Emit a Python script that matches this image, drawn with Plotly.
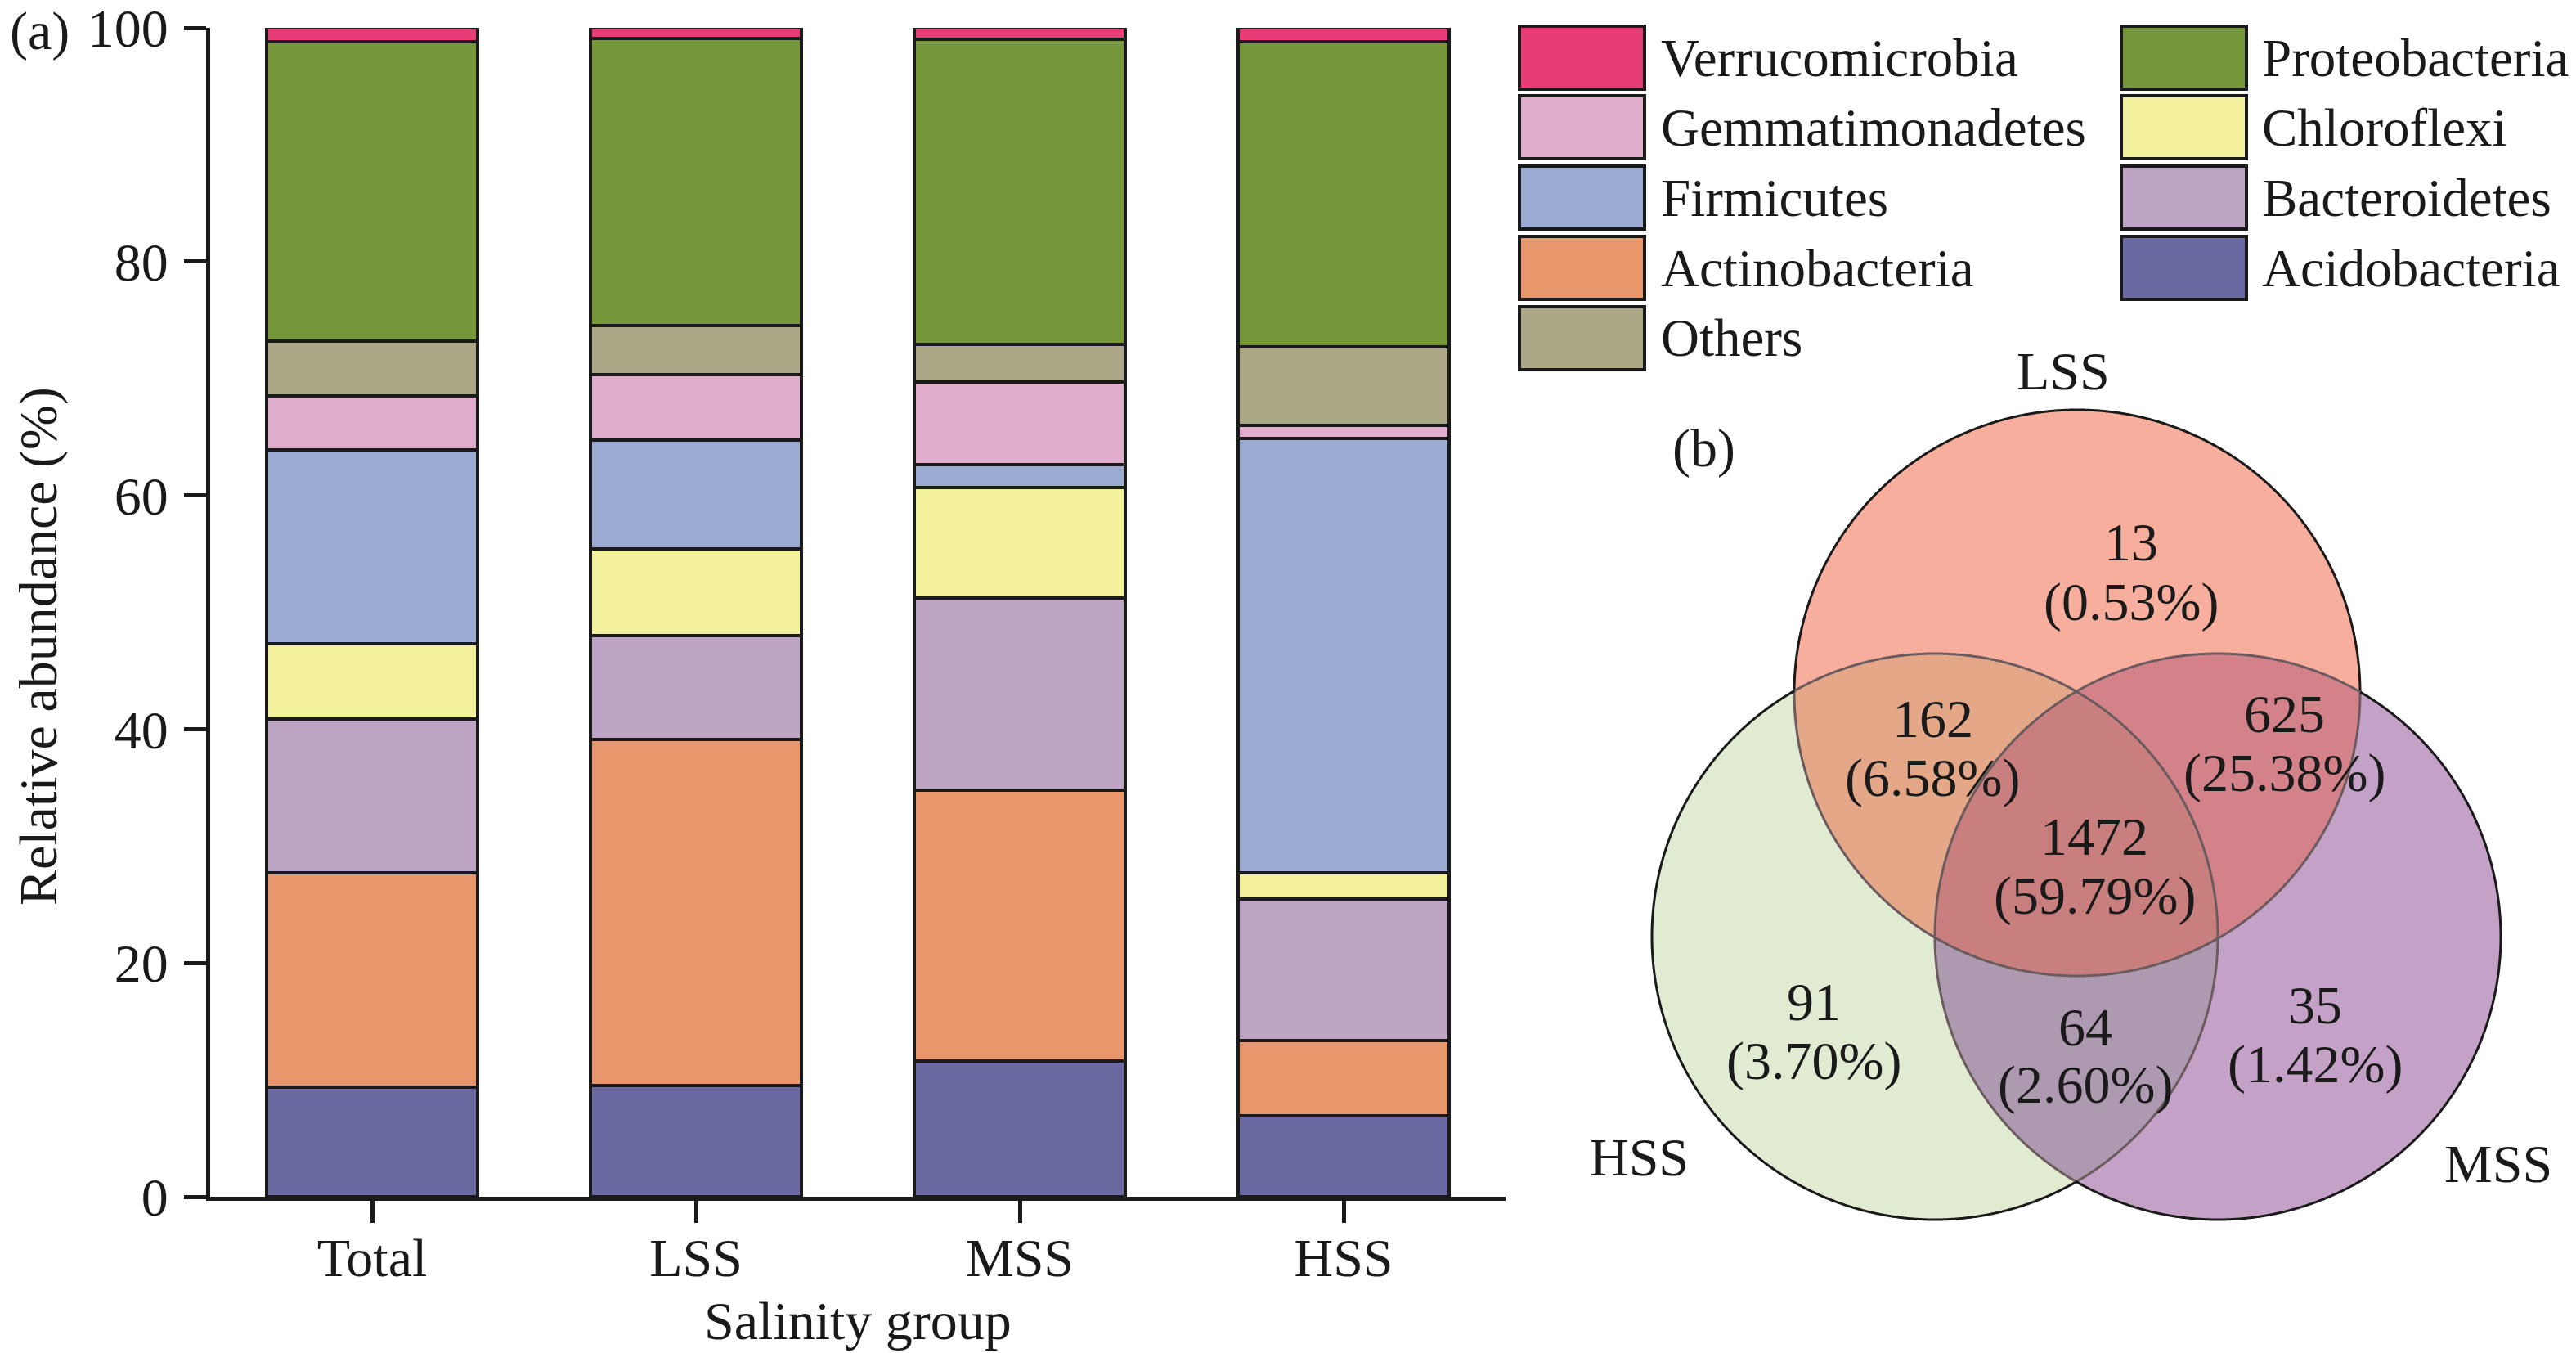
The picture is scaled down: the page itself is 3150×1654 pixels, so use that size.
import numpy as np
import plotly.graph_objects as go

# the page body adds an 8px margin, so the figure is 8px smaller and all
# reference pixel positions are shifted by that offset
OFF = 8
W, H = 3150 - OFF, 1654 - OFF
FONT = "Liberation Serif, Times New Roman, serif"
INK = "#1a1a1a"

# ---------------- data ----------------
groups = ["Total", "LSS", "MSS", "HSS"]
phyla = ["Acidobacteria", "Actinobacteria", "Bacteroidetes", "Chloroflexi",
         "Firmicutes", "Gemmatimonadetes", "Others", "Proteobacteria",
         "Verrucomicrobia"]
acidobacteria    = [9.4, 9.5, 11.6, 6.9]
actinobacteria   = [18.3, 29.6, 23.2, 6.5]
bacteroidetes    = [13.2, 8.9, 16.4, 12.1]
chloroflexi      = [6.4, 7.4, 9.5, 2.2]
firmicutes       = [16.6, 9.3, 1.9, 37.2]
gemmatimonadetes = [4.6, 5.6, 7.1, 1.1]
others           = [4.7, 4.2, 3.2, 6.7]
proteobacteria   = [25.6, 24.6, 26.1, 26.1]
verrucomicrobia  = [1.2, 0.9, 1.0, 1.2]
series = [acidobacteria, actinobacteria, bacteroidetes, chloroflexi, firmicutes,
          gemmatimonadetes, others, proteobacteria, verrucomicrobia]
colors = ["#6a69a1", "#e8966b", "#bda4c5", "#f3f19d", "#9cabd2",
          "#dfadcb", "#aca887", "#76983b", "#e83c78"]
y_ticks = [0, 20, 40, 60, 80, 100]

# legend layout (two columns, as in the figure)
legend_col1 = ["Verrucomicrobia", "Gemmatimonadetes", "Firmicutes", "Actinobacteria", "Others"]
legend_col2 = ["Proteobacteria", "Chloroflexi", "Bacteroidetes", "Acidobacteria"]

# Venn data
venn_sets = ["LSS", "HSS", "MSS"]
venn_regions = ["L", "LH", "LM", "LHM", "H", "HM", "M"]
venn_counts = [13, 162, 625, 1472, 91, 64, 35]
venn_pct = ["0.53%", "6.58%", "25.38%", "59.79%", "3.70%", "2.60%", "1.42%"]

# ---------------- helpers (screen pixel -> paper) ----------------
def px(x):
    return (x - OFF) / W

def py(y):
    return 1 - (y - OFF) / H

fig = go.Figure()
for name, vals, col in zip(phyla, series, colors):
    fig.add_trace(go.Bar(x=groups, y=vals, name=name, width=0.65,
                         marker=dict(color=col, line=dict(color=INK, width=4)),
                         showlegend=False))

fig.update_layout(
    width=W, height=H, barmode="stack",
    margin=dict(l=0, r=0, t=0, b=0, autoexpand=False),
    paper_bgcolor="white", plot_bgcolor="white",
    font=dict(family=FONT, size=65, color=INK),
    xaxis=dict(domain=[px(257), px(1841)], range=[-0.5, 3.5], automargin=False,
               showline=True, linecolor=INK, linewidth=5,
               ticks="outside", ticklen=27, tickwidth=5, tickcolor=INK,
               tickfont=dict(family=FONT, size=66, color=INK),
               showgrid=False, zeroline=False, ticklabelstandoff=-14,
               ticklabeloverflow="allow"),
    yaxis=dict(domain=[py(1463), py(34)], range=[0, 100], automargin=False,
               tickvals=y_ticks, showline=True, linecolor=INK, linewidth=5,
               ticks="outside", ticklen=27, tickwidth=5, tickcolor=INK,
               tickfont=dict(family=FONT, size=66, color=INK),
               showgrid=False, zeroline=False, ticklabelstandoff=6,
               ticklabeloverflow="allow"),
)

ann = []
shapes = []

def text(x, y, s, size=66, anchor="center", angle=0):
    ann.append(dict(x=px(x), y=py(y), xref="paper", yref="paper", text=s,
                    showarrow=False, xanchor=anchor, yanchor="middle",
                    textangle=angle, font=dict(family=FONT, size=size, color=INK)))

text(48, 38, "(a)")
text(47, 790, "Relative abundance (%)")
ann[-1]["textangle"] = -90
text(1049, 1614, "Salinity group")

# ---------------- legend ----------------
color_of = dict(zip(phyla, colors))
row_top = [32, 117, 203, 289, 375]
sw_h = 77
for col_names, sx, tx in ((legend_col1, 1858, 2029), (legend_col2, 2594, 2764)):
    for i, nm in enumerate(col_names):
        t = row_top[i]
        shapes.append(dict(type="rect", xref="paper", yref="paper",
                           x0=px(sx), x1=px(sx + 153), y0=py(t + sw_h), y1=py(t),
                           fillcolor=color_of[nm], line=dict(color=INK, width=4)))
        text(tx, t + sw_h / 2, nm, size=65, anchor="left")

# ---------------- Venn diagram ----------------
R = 346
centers = {"LSS": (2540, 847), "HSS": (2366, 1145), "MSS": (2712, 1145)}
fills = {"L": "#f8ae9c", "H": "#e0ebd1", "M": "#c4a1c6",
         "LH": "#e4a888", "LM": "#d4828a", "HM": "#ae9ab0", "LHM": "#c87f7e"}
key = {"L": "LSS", "H": "HSS", "M": "MSS"}

def circ(c, n=720):
    a = np.linspace(0, 2 * np.pi, n, endpoint=False)
    return np.c_[c[0] + R * np.cos(a), c[1] + R * np.sin(a)]

def inside(p, c):
    return np.hypot(p[:, 0] - c[0], p[:, 1] - c[1]) <= R + 1e-9

def path_of(pts, close=True):
    s = "M " + " L ".join(f"{px(x):.6f},{py(y):.6f}" for x, y in pts)
    return s + (" Z" if close else "")

def region_poly(letters):
    cs = [centers[key[l]] for l in letters]
    pts = []
    for i, c in enumerate(cs):
        p = circ(c)
        m = np.ones(len(p), bool)
        for j, d in enumerate(cs):
            if j != i:
                m &= inside(p, d)
        pts.append(p[m])
    pts = np.vstack(pts)
    cen = pts.mean(axis=0)
    order = np.argsort(np.arctan2(pts[:, 1] - cen[1], pts[:, 0] - cen[0]))
    return pts[order]

# painter's order: single circles, pair lenses, triple
for l in ["H", "M", "L"]:
    shapes.append(dict(type="path", xref="paper", yref="paper",
                       path=path_of(circ(centers[key[l]])),
                       fillcolor=fills[l], line=dict(width=0)))
for r in ["HM", "LH", "LM", "LHM"]:
    shapes.append(dict(type="path", xref="paper", yref="paper",
                       path=path_of(region_poly(r)),
                       fillcolor=fills[r], line=dict(width=0)))

# outlines: outer arcs dark, inner arcs muted
for s in venn_sets:
    p = circ(centers[s], 1440)
    inner = np.zeros(len(p), bool)
    for o in venn_sets:
        if o != s:
            inner |= np.hypot(p[:, 0] - centers[o][0], p[:, 1] - centers[o][1]) < R
    idx = np.nonzero(inner != np.roll(inner, 1))[0]
    start = idx[0] if len(idx) else 0
    p = np.roll(p, -start, axis=0)
    inner = np.roll(inner, -start)
    b = 0
    for k in range(1, len(p) + 1):
        if k == len(p) or inner[k] != inner[b]:
            seg = p[b:k + 1] if k < len(p) else np.vstack([p[b:], p[:1]])
            shapes.append(dict(type="path", xref="paper", yref="paper",
                               path=path_of(seg, close=False),
                               line=dict(color="#6b5a5e" if inner[b] else INK, width=3)))
            b = k

label_pos = {"L": (2606, 659, 736), "LH": (2363, 874, 951), "LM": (2793, 869, 945),
             "LHM": (2561, 1018, 1095), "H": (2218, 1220, 1297),
             "HM": (2550, 1251, 1326), "M": (2831, 1224, 1301)}
for r, n, pc in zip(venn_regions, venn_counts, venn_pct):
    x, y1, y2 = label_pos[r]
    text(x, y1 + 4, str(n))
    text(x, y2, f"({pc})")

set_label_pos = {"LSS": (2523, 454), "HSS": (2004, 1414), "MSS": (3055, 1422)}
for s in venn_sets:
    text(*set_label_pos[s], s)
text(2083, 548, "(b)")

fig.update_layout(annotations=ann, shapes=shapes)
fig.write_html("out.html")
